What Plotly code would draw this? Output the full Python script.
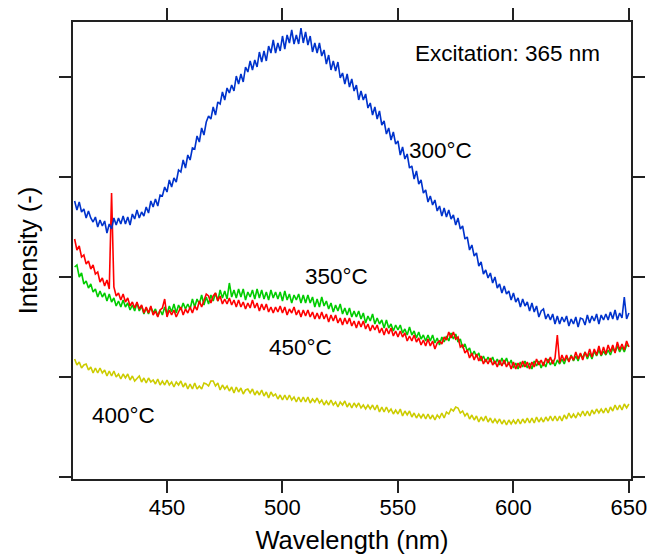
import plotly.graph_objects as go

wavelength = list(range(410, 651))

blue_300 = [
    276, 267, 275, 265, 268, 259, 266, 259, 255, 260,
    250, 257, 251, 256, 244, 253, 248, 259, 252, 259,
    253, 261, 253, 260, 252, 263, 258, 267, 259, 265,
    261, 270, 264, 276, 270, 278, 271, 282, 281, 290,
    285, 297, 290, 299, 295, 307, 305, 317, 309, 322,
    317, 329, 328, 341, 335, 349, 342, 355, 361, 358,
    370, 362, 375, 373, 385, 377, 389, 384, 392, 386,
    401, 393, 403, 395, 410, 405, 416, 407, 417, 410,
    425, 415, 426, 416, 431, 424, 437, 424, 434, 426,
    441, 428, 442, 434, 447, 433, 442, 433, 449, 434,
    445, 432, 441, 425, 434, 424, 434, 421, 427, 413,
    422, 407, 416, 406, 415, 399, 404, 393, 403, 390,
    398, 386, 392, 377, 386, 377, 383, 369, 374, 362,
    370, 358, 366, 352, 356, 343, 349, 337, 345, 333,
    336, 322, 330, 318, 323, 309, 311, 298, 306, 293,
    297, 284, 287, 275, 281, 272, 277, 266, 271, 261,
    269, 260, 267, 258, 262, 252, 259, 248, 251, 238,
    240, 227, 232, 221, 224, 211, 215, 203, 207, 199,
    204, 194, 200, 189, 193, 184, 191, 183, 186, 177,
    184, 175, 179, 170, 178, 171, 175, 166, 174, 165,
    171, 160, 166, 168, 158, 163, 157, 163, 153, 161,
    153, 160, 155, 161, 151, 158, 153, 160, 150, 159,
    158, 152, 162, 154, 161, 156, 163, 153, 162, 157,
    163, 157, 165, 158, 167, 157, 164, 159, 180, 158, 164,
]

red_450 = [
    238, 227, 231, 220, 222, 213, 216, 208, 212, 203,
    205, 195, 199, 191, 197, 188, 284, 190, 181, 184,
    177, 183, 175, 179, 171, 175, 169, 175, 168, 172,
    164, 170, 164, 171, 162, 166, 160, 167, 169, 178,
    160, 167, 162, 167, 160, 166, 170, 162, 168, 164,
    170, 164, 171, 167, 176, 170, 177, 183, 181, 174,
    181, 184, 176, 181, 173, 178, 173, 179, 172, 177,
    170, 177, 170, 175, 168, 174, 169, 177, 169, 174,
    166, 173, 167, 173, 165, 170, 164, 170, 165, 171,
    164, 170, 162, 168, 164, 170, 162, 167, 160, 167,
    161, 167, 160, 165, 158, 164, 158, 165, 158, 163,
    155, 162, 156, 162, 154, 159, 152, 159, 153, 159,
    151, 156, 149, 156, 150, 156, 148, 153, 146, 152,
    147, 152, 144, 149, 142, 149, 143, 149, 141, 146,
    140, 146, 140, 144, 136, 141, 136, 142, 135, 139,
    132, 137, 131, 138, 131, 136, 128, 134, 136, 133,
    140, 137, 145, 139, 145, 138, 140, 130, 132, 124,
    127, 119, 124, 117, 123, 116, 121, 113, 118, 113,
    119, 112, 116, 110, 117, 111, 117, 110, 115, 108,
    115, 108, 114, 109, 116, 110, 115, 108, 115, 110,
    118, 112, 117, 111, 119, 114, 120, 113, 119, 142,
    114, 122, 116, 122, 115, 121, 117, 125, 118, 124,
    117, 125, 120, 128, 120, 128, 122, 131, 122, 130,
    123, 132, 125, 132, 124, 135, 127, 133, 127, 136, 130,
]

green_350 = [
    210, 212, 200, 204, 193, 196, 189, 193, 185, 188,
    180, 186, 180, 184, 176, 183, 175, 179, 171, 176,
    170, 177, 170, 174, 167, 172, 166, 174, 166, 171,
    163, 169, 163, 170, 164, 168, 161, 167, 162, 170,
    163, 171, 165, 173, 164, 172, 167, 174, 168, 173,
    168, 178, 170, 178, 173, 182, 172, 180, 173, 182,
    176, 184, 176, 187, 179, 186, 178, 194, 180, 187,
    179, 188, 180, 188, 177, 185, 180, 187, 178, 188,
    179, 187, 178, 185, 177, 187, 179, 185, 178, 185,
    176, 186, 177, 183, 174, 182, 177, 183, 174, 182,
    174, 182, 174, 180, 170, 178, 170, 180, 171, 176,
    168, 174, 165, 172, 166, 173, 163, 169, 162, 169,
    160, 166, 160, 166, 158, 164, 154, 161, 156, 163,
    153, 159, 153, 157, 149, 157, 149, 153, 146, 152,
    147, 152, 144, 148, 142, 150, 142, 146, 139, 145,
    138, 142, 136, 142, 136, 142, 134, 139, 132, 140,
    135, 141, 136, 144, 138, 143, 135, 138, 129, 133,
    126, 129, 121, 126, 120, 124, 116, 121, 115, 120,
    115, 120, 113, 118, 112, 119, 113, 119, 112, 117,
    109, 114, 108, 115, 110, 116, 109, 114, 108, 116,
    111, 116, 109, 115, 110, 118, 112, 117, 111, 117,
    113, 118, 113, 120, 116, 122, 116, 121, 116, 123,
    119, 125, 118, 124, 118, 126, 121, 127, 121, 126,
    122, 127, 122, 129, 125, 131, 125, 130, 125, 132, 131,
]

yellow_400 = [
    118, 112, 115, 109, 112, 113, 107, 110, 104, 109,
    104, 109, 104, 107, 101, 106, 101, 106, 100, 103,
    98, 103, 99, 103, 97, 101, 96, 99, 101, 95,
    99, 94, 99, 95, 97, 93, 98, 92, 96, 92,
    97, 92, 95, 90, 95, 92, 96, 90, 94, 88,
    93, 88, 94, 88, 91, 88, 94, 93, 91, 96,
    96, 91, 94, 87, 92, 88, 91, 86, 90, 84,
    90, 85, 89, 83, 87, 88, 84, 88, 82, 86,
    82, 87, 81, 85, 79, 85, 81, 83, 78, 82,
    77, 82, 77, 82, 77, 80, 75, 80, 75, 80,
    75, 80, 74, 78, 75, 79, 74, 77, 72, 76,
    72, 77, 72, 75, 70, 75, 72, 76, 70, 74,
    69, 74, 70, 74, 69, 72, 68, 72, 68, 72,
    67, 72, 65, 70, 65, 70, 65, 68, 63, 67,
    63, 68, 61, 66, 62, 66, 60, 64, 59, 63,
    59, 63, 58, 63, 58, 62, 57, 62, 59, 64,
    59, 65, 63, 68, 66, 70, 69, 64, 66, 61,
    64, 58, 62, 57, 61, 55, 60, 56, 61, 55,
    59, 54, 58, 54, 58, 53, 57, 52, 57, 53,
    57, 53, 58, 53, 58, 54, 59, 54, 59, 54,
    60, 55, 59, 55, 60, 56, 61, 56, 61, 56,
    61, 56, 62, 58, 64, 59, 63, 59, 64, 61,
    66, 61, 66, 61, 67, 63, 68, 64, 68, 64,
    69, 64, 70, 66, 72, 67, 72, 67, 73, 69, 73,
]

x_ticks = [450, 500, 550, 600, 650]
y_ticks = [0, 100, 200, 300, 400]

labels = [
    ("Excitation: 365 nm", 597.6, 424),
    ("300°C", 568.6, 327),
    ("350°C", 523.6, 201),
    ("450°C", 507.6, 130),
    ("400°C", 431.2, 62),
]

FONT = "Liberation Sans, Arial, Helvetica, sans-serif"

fig = go.Figure()
series = [
    (yellow_400, "#CCCC00", "400°C"),
    (green_350, "#00CC00", "350°C"),
    (red_450, "#FF0000", "450°C"),
    (blue_300, "#0033CC", "300°C"),
]
for vals, color, name in series:
    fig.add_trace(go.Scatter(x=wavelength, y=vals, mode="lines", name=name,
                             line=dict(color=color, width=1.6), showlegend=False))

for text, xv, yv in labels:
    fig.add_annotation(x=xv, y=yv, xref="x", yref="y", text=text, showarrow=False,
                       font=dict(family=FONT, size=22.5, color="black"),
                       xanchor="center", yanchor="middle")

axis_common = dict(showgrid=False, zeroline=False, showline=True, linecolor="#222",
                   linewidth=1.5, mirror="allticks", ticks="outside", ticklen=12,
                   tickwidth=1.5, tickcolor="#222", automargin=False)

fig.update_layout(
    width=663, height=554,
    margin=dict(l=65, r=40, t=14, b=83),
    paper_bgcolor="white", plot_bgcolor="white",
    font=dict(family=FONT, color="black"),
    xaxis=dict(range=[409.3, 650.9], tickvals=x_ticks, ticktext=[str(t) for t in x_ticks],
               tickfont=dict(size=22), ticklabelstandoff=-4,
               title=dict(text="Wavelength (nm)", font=dict(size=25.5), standoff=12),
               **axis_common),
    yaxis=dict(range=[-2, 455], tickvals=y_ticks, showticklabels=False,
               title=dict(text="Intensity (-)", font=dict(size=25.5), standoff=14),
               **axis_common),
)

fig.write_html("out.html")
